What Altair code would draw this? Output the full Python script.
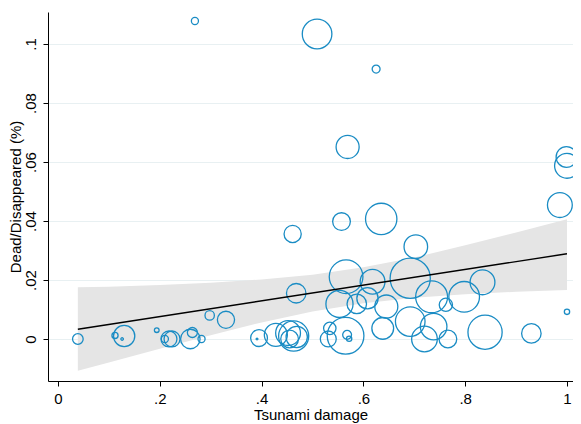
import math
import altair as alt
import pandas as pd

# ---- data ----
damage = [0.039, 0.112, 0.126, 0.130, 0.194, 0.210, 0.218, 0.224, 0.260, 0.264,
          0.282, 0.298, 0.330, 0.269, 0.395, 0.391, 0.428, 0.452, 0.463, 0.455,
          0.469, 0.461, 0.468, 0.509, 0.531, 0.534, 0.553, 0.557, 0.565, 0.566,
          0.568, 0.572, 0.569, 0.587, 0.608, 0.618, 0.625, 0.635, 0.645, 0.638,
          0.692, 0.692, 0.703, 0.720, 0.738, 0.734, 0.762, 0.766, 0.798, 0.834,
          0.839, 0.930, 0.986, 0.999, 1.000, 1.000]
dead = [0.0000, 0.0012, 0.0000, 0.0010, 0.0030, 0.0000, 0.0000, 0.0000, 0.0000, 0.0022,
        0.0000, 0.0080, 0.0065, 0.1078, 0.0003, 0.0000, 0.0014, 0.0020, 0.0010, 0.0000,
        0.0007, 0.0356, 0.0155, 0.1034, 0.0000, 0.0036, 0.0119, 0.0398, 0.0011, 0.0211,
        0.0014, 0.0001, 0.0651, 0.0119, 0.0138, 0.0194, 0.0915, 0.0407, 0.0110, 0.0036,
        0.0206, 0.0059, 0.0313, 0.0000, 0.0042, 0.0143, 0.0116, 0.0000, 0.0143, 0.0192,
        0.0023, 0.0019, 0.0454, 0.0617, 0.0587, 0.0092]
weight = [36, 12, 2, 144, 7, 16, 81, 81, 121, 32,
          16, 28, 94, 16, 90, 1, 169, 196, 289, 100,
          144, 94, 121, 279, 81, 49, 234, 100, 428, 361,
          25, 9, 169, 121, 144, 196, 20, 313, 169, 151,
          515, 279, 177, 210, 225, 324, 56, 100, 299, 196,
          372, 121, 196, 137, 196, 9]

fit_x = [0.039, 1.0]
fit_y = [0.0033, 0.0289]

band_x = [0.039, 0.1, 0.2, 0.3, 0.4, 0.5, 0.6, 0.7, 0.8, 0.9, 1.0]
band_lo = [-0.0108, -0.0080, -0.0033, 0.0013, 0.0056, 0.0093, 0.0121, 0.0140, 0.0152, 0.0160, 0.0166]
band_hi = [0.0175, 0.0177, 0.0183, 0.0191, 0.0202, 0.0218, 0.0243, 0.0276, 0.0318, 0.0361, 0.0406]

x_ticks = [0, 0.2, 0.4, 0.6, 0.8, 1]
y_ticks = [0, 0.02, 0.04, 0.06, 0.08, 0.1]

pts = pd.DataFrame({"damage": damage, "dead": dead, "weight": weight})
fit = pd.DataFrame({"damage": fit_x, "dead": fit_y})
band = pd.DataFrame({"damage": band_x, "lo": band_lo, "hi": band_hi})

FONT = "Liberation Sans"
BLUE = "#1a8cc4"

xscale = alt.Scale(domain=[-0.01965, 1.0118], nice=False, zero=False)
yscale = alt.Scale(domain=[-0.01424, 0.11085], nice=False, zero=False)

lab = "datum.value == 0 ? '0' : replace(format(datum.value, '~g'), '0.', '.')"

xaxis = alt.Axis(values=x_ticks, labelExpr=lab, title="Tsunami damage", grid=False,
                 labelPadding=5, titlePadding=1)
yaxis = alt.Axis(values=y_ticks, labelExpr=lab, title="Dead/Disappeared (%)", grid=True,
                 labelAngle=-90, labelAlign="center", labelBaseline="bottom",
                 labelPadding=5, titlePadding=0)

band_layer = alt.Chart(band).mark_area(color="#e5e5e5", opacity=1).encode(
    x=alt.X("damage:Q", scale=xscale, axis=xaxis),
    y=alt.Y("lo:Q", scale=yscale, axis=yaxis),
    y2="hi:Q",
)

point_layer = alt.Chart(pts).mark_point(shape="circle", filled=False, color=BLUE,
                                        strokeWidth=1.3, opacity=1).encode(
    x=alt.X("damage:Q", scale=xscale),
    y=alt.Y("dead:Q", scale=yscale),
    size=alt.Size("weight:Q", scale=alt.Scale(type="linear", domain=[0, 600],
                                               range=[0, 600 * math.pi]), legend=None),
)

line_layer = alt.Chart(fit).mark_line(color="black", strokeWidth=1.4).encode(
    x=alt.X("damage:Q", scale=xscale),
    y=alt.Y("dead:Q", scale=yscale),
)

chart = alt.layer(band_layer, point_layer, line_layer).properties(
    width=525, height=369,
    background="white",
    autosize=alt.AutoSizeParams(type="none"),
    padding={"left": 40, "top": 4, "right": 0, "bottom": 44},
).configure_view(strokeWidth=0).configure_axis(
    domainColor="black", domainWidth=1, tickColor="black", tickSize=5, tickWidth=1,
    labelFont=FONT, labelFontSize=15, labelColor="black",
    titleFont=FONT, titleFontSize=15, titleFontWeight="normal", titleColor="black",
    gridColor="#e8f0f2", gridWidth=1.2,
)

chart.save("out.html", embed_options={"renderer": "svg", "actions": False})
